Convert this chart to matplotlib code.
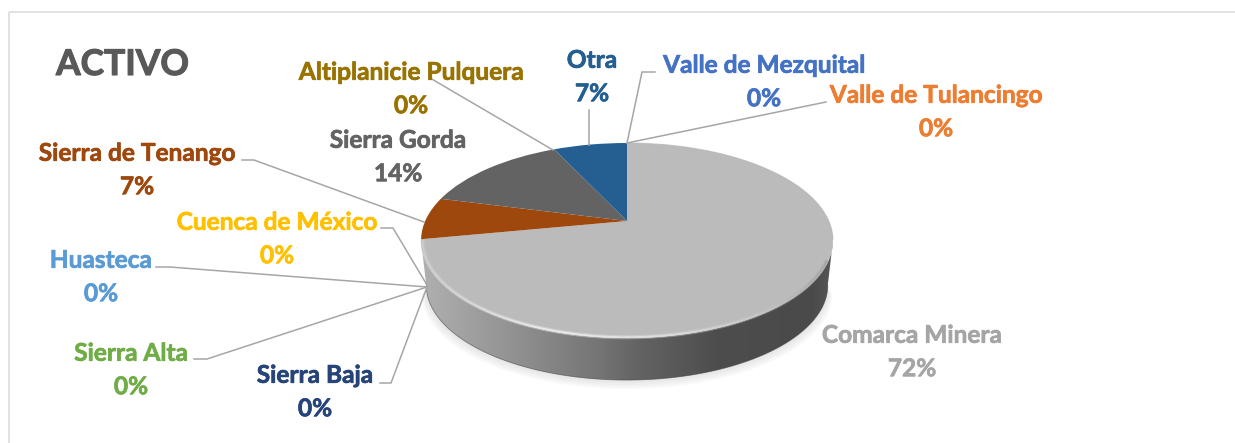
#!/usr/bin/env python3

import matplotlib
matplotlib.use('Agg')
import matplotlib.pyplot as plt
import matplotlib.patheffects as pe
import numpy as np
from matplotlib.collections import LineCollection
from matplotlib.colors import LinearSegmentedColormap
from matplotlib.patches import Polygon, Rectangle
from matplotlib.transforms import Transform

# Values, clockwise from 12 o'clock
regions = ['Comarca Minera', 'Sierra Baja', 'Sierra Alta', 'Huasteca', 'Cuenca de México',
           'Sierra de Tenango', 'Sierra Gorda', 'Altiplanicie Pulquera', 'Otra',
           'Valle de Mezquital', 'Valle de Tulancingo']
percent = [72, 0, 0, 0, 0, 7, 14, 0, 7, 0, 0]

slice_colors = ['#BBBBBB', '#264478', '#70AD47', '#5B9BD5', '#FFC000',
                '#9E480E', '#636363', '#997300', '#255E91', '#4472C4', '#ED7D31']
label_colors = ['#A5A5A5', '#264478', '#70AD47', '#5B9BD5', '#FFC000',
                '#9E480E', '#636363', '#997300', '#255E91', '#4472C4', '#ED7D31']

# Label centres in pixels
label_x = [912, 315, 131, 101, 277, 137, 398, 411, 592, 764, 936]
label_y = [352, 392, 370, 277, 239, 170, 157, 89, 77, 82, 112]

# Leader lines in pixels, from the label to the pie
leaders = [
    [(380, 383), (391, 383), (427, 287)],
    [(194, 359), (207, 359), (427, 287)],
    [(156, 267), (170, 267), (427, 287)],
    [(381, 228), (393, 228), (427, 285)],
    [(242, 160), (254, 160), (424, 222)],
    [(430, 78), (553, 150)],
    [(589, 110), (589, 145)],
    [(655, 72), (642, 72), (627, 143)],
    [(826, 102), (627, 143)],
]

W, H = 1235, 443
CX, CY = 627, 221  # apex of the pie
TILT = 0.2
SX, SY = 201.8, 93.6


class TiltedPie(Transform):
    # perspective view of the unit circle, gives the Excel 3D pie shape
    input_dims = 2
    output_dims = 2

    def transform_non_affine(self, xy):
        xy = np.asarray(xy, dtype=float)
        w = 1 + TILT * xy[:, 1]
        return np.column_stack([CX + SX * xy[:, 0] / w, CY - SY * xy[:, 1] / w])


plt.rcParams['font.family'] = ['Lato', 'DejaVu Sans']
plt.rcParams['font.weight'] = 'bold'

fig = plt.figure(figsize=(W / 100, H / 100), dpi=100)
ax = fig.add_axes([0, 0, 1, 1])

tilted = TiltedPie()
wedges, _ = ax.pie(percent, colors=slice_colors, startangle=90, counterclock=False,
                   wedgeprops={'linewidth': 0, 'zorder': 4})
for w in wedges:
    w.set_transform(tilted + ax.transData)

ax.set_aspect('auto')
ax.set_xlim(0, W)
ax.set_ylim(H, 0)
ax.axis('off')

# Chart frame, only top and left fall inside the picture
ax.add_patch(Rectangle((9, 11.5), W + 50, H + 50, fill=False, edgecolor='#D9D9D9',
                       linewidth=1.1, zorder=1))

# Rim of the top face and of the bottom disc
t = np.linspace(0, 2 * np.pi, 721)
rim = tilted.transform_non_affine(np.column_stack([np.cos(t), np.sin(t)]))
mid_y = rim[np.argmin(rim[:, 0]), 1]
front = rim[rim[:, 1] >= mid_y]
front = front[np.argsort(front[:, 0])]
base = np.column_stack([CX + (front[:, 0] - CX) * 0.975, front[:, 1] * 0.975 + 50.5])

# Soft shadow under the wall
for grow in [9, 7, 5, 3, 1]:
    shadow = np.column_stack([CX + (base[:, 0] - CX) * (1 + grow / 400), base[:, 1] + grow])
    ax.add_patch(Polygon(shadow, closed=True, facecolor='#808080', alpha=0.045,
                         edgecolor='none', zorder=2))

# Side wall with its horizontal gradient
wall_cmap = LinearSegmentedColormap.from_list('wall', [
    (0.00, '#B0B0B0'), (0.19, '#969696'), (0.43, '#757575'), (0.53, '#636363'),
    (0.72, '#4D4D4D'), (0.95, '#4A4A4A'), (1.00, '#565656')])
img = ax.imshow(np.linspace(0, 1, 256).reshape(1, -1), cmap=wall_cmap, aspect='auto',
                extent=(front[0, 0], front[-1, 0], 400, 230), zorder=3)
wall = Polygon(np.vstack([front, base[::-1]]), closed=True, transform=ax.transData)
img.set_clip_path(wall)
ax.set_xlim(0, W)
ax.set_ylim(H, 0)
ax.plot(base[:, 0], base[:, 1], color='#444444', lw=0.6, alpha=0.6, zorder=3)

# Bevel along the front edge of the top face, a soft wide pass and a bright core
inner = np.column_stack([CX + (front[:, 0] - CX) * 0.992, (front[:, 1] - 240) * 0.992 + 240])
pts = inner.reshape(-1, 1, 2)
segs = np.concatenate([pts[:-1], pts[1:]], axis=1)
u = (segs[:, 0, 0] - front[0, 0]) / (front[-1, 0] - front[0, 0])
segs, u = segs[u < 0.985], u[u < 0.985]
bevel_cmap = LinearSegmentedColormap.from_list('bevel', [
    (0.00, '#CFCFCF'), (0.30, '#EDEDED'), (0.60, '#DEDEDE'), (0.85, '#C4C4C4'), (1.00, '#A0A0A0')])
ax.add_collection(LineCollection(segs, colors=bevel_cmap(u), linewidths=3.0, alpha=0.4, zorder=5))
ax.add_collection(LineCollection(segs, colors=bevel_cmap(u), linewidths=1.3, zorder=5))

# Faint darker line on the far right edge of the top face
back = rim[(rim[:, 1] < mid_y) & (rim[:, 0] > CX)]
back = back[np.argsort(back[:, 0])]
ax.plot(back[:, 0], back[:, 1], color='#B0B0B0', lw=0.8, alpha=0.6, zorder=5)

# Leader lines
for line in leaders:
    xs, ys = zip(*line)
    ax.plot(xs, ys, color='#A6A6A6', lw=1.1, solid_joinstyle='miter', zorder=6)

# Lato Bold is a little lighter than the original face, so thicken it slightly
title = ax.text(56, 75, 'ACTIVO', color='#595959', fontsize=25.5, fontweight='bold',
                ha='left', va='baseline', zorder=7)
title.set_path_effects([pe.withStroke(linewidth=0.8, foreground='#595959')])

for name, pct, col, x, y in zip(regions, percent, label_colors, label_x, label_y):
    txt = ax.text(x, y, f'{name}\n{pct}%', color=col, fontsize=17.6, fontweight='bold',
                  ha='center', va='center', linespacing=1.55, zorder=7)
    txt.set_path_effects([pe.withStroke(linewidth=0.5, foreground=col)])

fig.savefig('out.png', dpi=100)
